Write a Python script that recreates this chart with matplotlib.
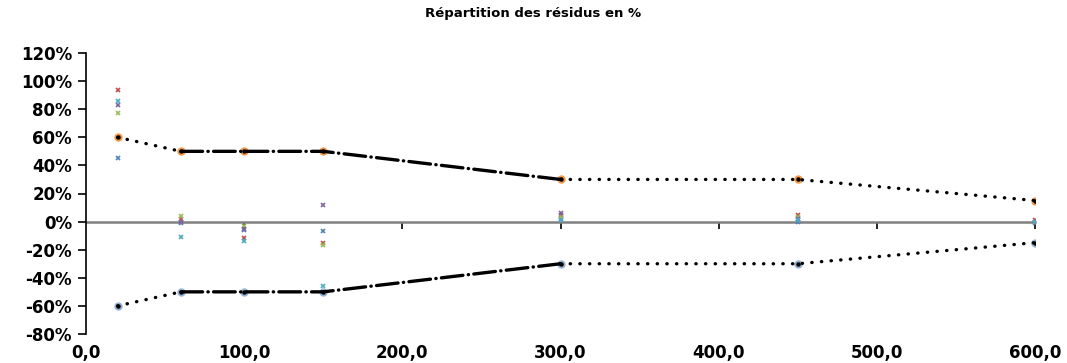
import numpy as np
import matplotlib
matplotlib.use("Agg")
import matplotlib.pyplot as plt
from matplotlib.ticker import FuncFormatter

# abscisses des points de mesure
x = [20, 60, 100, 150, 300, 450, 600]

# bornes de tolerance (en fraction)
borne_haute = [0.60, 0.50, 0.50, 0.50, 0.30, 0.30, 0.15]
borne_basse = [-0.60, -0.50, -0.50, -0.50, -0.30, -0.30, -0.15]

# residus par serie (en %)
serie_1 = [45, -1, -6, -7, 2, 0, -1]
serie_2 = [94, 2, -12, -15, 5, 5, 1]
serie_3 = [77, 4, -3, -17, 3, 3, 0]
serie_4 = [83, 0, -5, 12, 6, 2, 0]
serie_5 = [86, -11, -14, -46, 1, 1, 0]

series = [serie_1, serie_2, serie_3, serie_4, serie_5]
couleurs = ["#4F81BD", "#C0504D", "#9BBB59", "#8064A2", "#4BACC6"]

plt.rcParams['font.family'] = ['DejaVu Sans']

fig = plt.figure(figsize=(10.67, 3.63), dpi=100)
ax = fig.add_axes([86 / 1067, 1 - 334 / 363, (1035 - 86) / 1067, (334 - 53) / 363])

# segments de bornes : pointilles / tiret-point / pointilles
dotted = (0, (0.1, 2.8))
dashdot = (0, (6.5, 1.6, 0.1, 1.6))
xa = np.array(x)
for b in [borne_haute, borne_basse]:
    b = np.array(b)
    for sl, ls in [(slice(0, 2), dotted), (slice(1, 5), dashdot), (slice(4, 7), dotted)]:
        ax.plot(xa[sl], b[sl], color='black', lw=2.4, linestyle=ls,
                dash_capstyle='round', solid_capstyle='round', zorder=3)

ax.plot(x, borne_haute, linestyle='none', marker='o', ms=5,
        mfc='#F79646', mec='#F79646', zorder=2)
ax.plot(x, borne_basse, linestyle='none', marker='o', ms=5,
        mfc='#95B3D7', mec='#95B3D7', zorder=2)
ax.plot(x, borne_haute, linestyle='none', marker='o', ms=2.2,
        mfc='black', mec='black', zorder=4)
ax.plot(x, borne_basse, linestyle='none', marker='o', ms=2.2,
        mfc='black', mec='black', zorder=4)

for s, c in zip(series, couleurs):
    ax.plot(x, np.array(s) / 100, linestyle='none', marker='x', ms=3.5,
            mew=1.2, color=c, zorder=5)

ax.set_xlim(0, 600)
ax.set_ylim(-0.8, 1.2)
ax.set_yticks(np.arange(-0.8, 1.21, 0.2))
ax.set_xticks(np.arange(0, 601, 100))
ax.yaxis.set_major_formatter(FuncFormatter(lambda v, p: f"{int(round(v * 100))}%"))
ax.xaxis.set_major_formatter(FuncFormatter(lambda v, p: f"{v:.1f}".replace('.', ',')))

for side in ['top', 'right', 'bottom']:
    ax.spines[side].set_visible(False)
ax.spines['left'].set_linewidth(1.2)
ax.tick_params(axis='y', direction='out', length=6, width=1.2, pad=4,
               labelsize=12)
ax.tick_params(axis='x', length=0, pad=7, labelsize=12)
for lab in ax.get_xticklabels() + ax.get_yticklabels():
    lab.set_fontweight('bold')

# axe horizontal a y = 0
sec = ax.secondary_xaxis(0.4)
sec.spines['bottom'].set_color('#808080')
sec.spines['bottom'].set_linewidth(1.8)
sec.set_xticks(np.arange(100, 601, 100))
sec.tick_params(axis='x', direction='out', length=5, width=1.2, color='black',
                labelbottom=False)

fig.text(0.5, 1 - 14 / 363, "Répartition des résidus en %", ha='center',
         va='center', fontsize=9.5, fontweight='bold')

fig.savefig("out.png", dpi=100)
